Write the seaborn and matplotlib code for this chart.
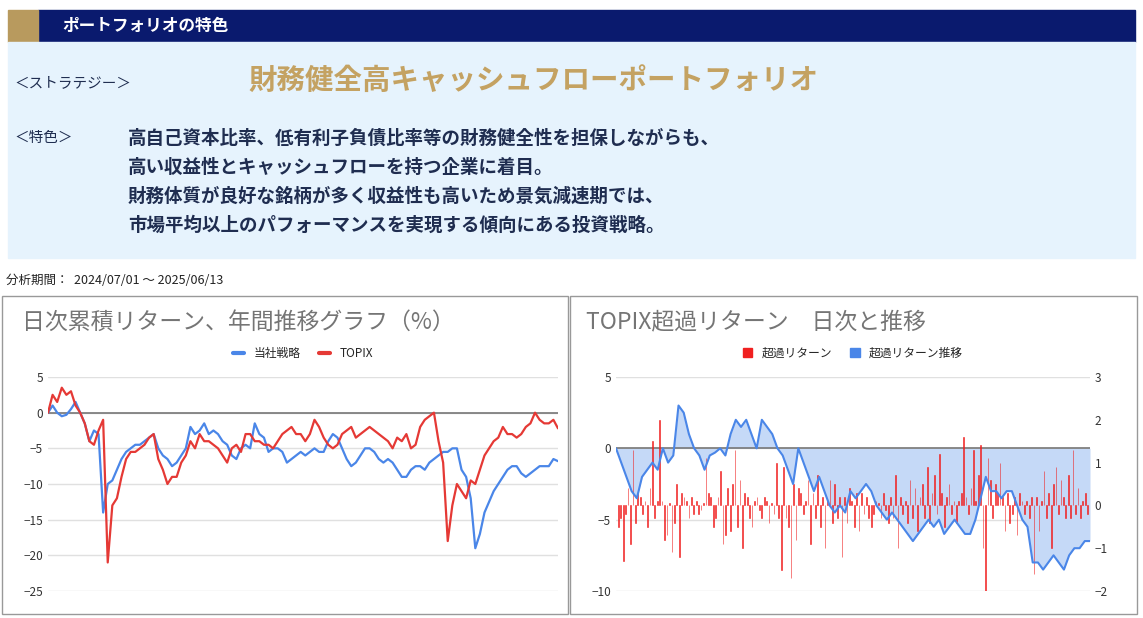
import numpy as np
import pandas as pd
import matplotlib
matplotlib.use("Agg")
import matplotlib.pyplot as plt
from matplotlib.patches import Rectangle
import seaborn as sns

# left chart: cumulative returns (%)
strategy = [0, 1, 0, -0.5, -0.3, 0.5, 1.5, 0, -1.5, -4, -2.5, -3, -14, -10, -9.5, -8, -6.5, -5.5, -5, -4.5,
            -4.5, -4, -3.5, -3, -5, -6, -6.5, -7.5, -7, -6, -5, -2, -3, -2.5, -1.5, -3, -2.5, -3, -4, -4.5,
            -6, -6.5, -5, -4.5, -5, -1.5, -3, -3.5, -5.5, -5, -5, -5.5, -7, -6.5, -6, -5.5, -6, -5.5, -5, -5.5,
            -5.5, -4, -3, -3.5, -5, -6.5, -7.5, -7, -6, -5, -5, -5.5, -6.5, -7, -6.5, -7, -8, -9, -9, -8,
            -7.5, -7.5, -8, -7, -6.5, -6, -5.5, -5.5, -5, -5, -8, -9, -12, -19, -17, -14, -12.5, -11, -10, -9,
            -8, -7.5, -7.5, -8.5, -9, -8.5, -8, -7.5, -7.5, -7.5, -6.5, -6.8]
topix = [0, 2.5, 1.5, 3.5, 2.5, 3, 1, 0, -1.5, -4, -4.5, -2.5, -1, -21, -13, -12, -9, -6.5, -5.5, -5.5,
         -5, -4.5, -3.5, -3, -6.5, -8, -10, -9, -9, -7, -6, -4, -5, -3, -4, -4, -4.5, -5, -6, -7,
         -5, -4.5, -5.5, -3, -3, -4, -4, -4.5, -4.5, -5, -4, -3, -2.5, -2, -3, -3, -4, -3, -1, -2,
         -3.5, -4.5, -5, -4.5, -3, -2.5, -2, -3.5, -3, -2.5, -2, -2.5, -3, -3.5, -4, -5, -3.5, -4, -3, -5,
         -4.5, -2, -1, -0.5, 0, -4, -7, -18, -13, -10, -11, -12, -9.5, -10, -8, -6, -5, -4, -3.5, -2,
         -3, -3, -3.5, -3, -2, -1.5, 0, -1, -1.5, -1.5, -1, -2.2]

# right chart: cumulative excess (left axis) and daily excess (right axis)
excess_cum = [0, -1, -2, -3, -3.5, -2, -1.5, -1, -1.5, 0, -1, -0.5, 3, 2.5, 1, 0, -0.5, -1.5, -0.5, -0.3,
              0, -0.5, 1, 2, 1.5, 2, 1, 0, 2, 1.5, 1, 0, -0.5, -1.5, -2.5, 0, -1, -2, -3, -2,
              -3, -4, -4.5, -4, -4.5, -3, -3.5, -3, -2.5, -3, -4, -4.5, -5, -4.5, -5, -5.5, -6, -6.5, -6, -5.5,
              -5, -5.5, -5, -6, -5.5, -5, -5.5, -6, -6, -5, -3.5, -2, -3, -3, -3.5, -3, -3, -4, -5, -5.5,
              -8, -8, -8.5, -8, -7.5, -8, -8.5, -7.5, -7, -7, -6.5, -6.5]
excess_daily = [-0.5, -0.3, -1.3, -0.2, 0.4, -0.9, 1.3, -0.4, 0.3, 0.2, -0.2, 0.1, -0.5, 0.4, 1.5, -0.3, 0.1, 2.0, 0.1, -0.8,
                -0.7, 0.05, -1.1, -0.4, 0.5, -1.2, 0.3, 0.2, 0.1, -0.3, 0.2, -0.2, 0.1, -0.2, -0.1, 0.05, 1.1, 0.3, 0.2, -0.5,
                -0.3, 0.2, 0.8, -0.9, -0.7, 0.4, -0.6, 0.5, 1.3, -0.5, 0.6, -1.0, 0.3, 0.2, -0.3, -0.5, 0.1, 0.2, -0.1, -0.3,
                0.2, 0.1, -0.4, 0.05, -0.2, 1.0, -0.3, -1.5, 0.9, -0.3, -0.5, -1.7, 0.5, -0.8, 0.4, 0.3, -0.2, 0.1, 0.6, -0.9,
                0.3, -0.3, 0.7, -0.5, 0.2, -1.0, 0.1, 0.6, -0.4, 0.5, -0.3, 0.2, -1.2, 0.2, -0.4, 0.4, 0.1, -0.5, 0.3, -0.6,
                0.3, -0.2, 0.2, -0.3, -0.5, -0.2, 0.1, 0.05, -0.3, 0.3, -0.1, -0.4, 0.2, -0.3, 0.7, -1.0, 0.2, -0.2, 0.1, -0.4,
                0.6, -0.3, 0.4, -0.6, 0.2, 0.5, -0.3, 0.9, -0.4, 0.3, 0.7, -0.2, 1.2, 0.3, -0.5, 0.2, 0.5, -0.2, 0.1, -0.4,
                0.1, 0.3, 1.6, 0.2, -0.2, 0.4, 1.3, 0.1, 0.7, 1.4, -1.0, -2.0, 1.1, 0.6, -0.3, 0.5, 0.3, 1.0, 0.2, -0.6,
                0.3, -0.4, -0.2, 0.2, -0.7, 0.3, 0.1, -0.2, 0.1, -0.3, 0.2, -1.6, 0.2, -0.6, 0.1, 0.8, -0.3, 0.3, -1.0, 0.5,
                0.9, -0.2, 0.6, 0.2, -0.3, 0.7, -0.3, 1.3, -0.2, 0.4, -0.3, 0.1, 0.3, -0.2]

NAVY = "#0a1a6e"
GOLD = "#c4a262"
TEXT = "#1f2d50"
BLUE = "#4a86e8"
RED = "#e53935"
BAR = "#f02020"

sns.set_style("white")
plt.rcParams["font.family"] = ["Noto Sans CJK JP", "DejaVu Sans"]

fig = plt.figure(figsize=(11.43, 6.18), dpi=100)
W, H = 1143, 618


def px(x, y, w, h):
    return [x / W, 1 - (y + h) / H, w / W, h / H]


# header band and info box
bg = fig.add_axes([0, 0, 1, 1])
bg.set_xlim(0, W)
bg.set_ylim(H, 0)
bg.axis("off")
bg.add_patch(Rectangle((38, 10), 1097, 32, color=NAVY))
bg.add_patch(Rectangle((8, 10), 30, 32, color="#b89a5e"))
bg.add_patch(Rectangle((8, 42), 1127, 216, color="#e6f3fd"))
bg.text(62, 26, "ポートフォリオの特色", color="white", fontsize=12, fontweight="bold", va="center")
bg.text(14, 83, "＜ストラテジー＞", color=TEXT, fontsize=10.5, va="center")
bg.text(248, 81, "財務健全高キャッシュフローポートフォリオ", color=GOLD, fontsize=20.5, fontweight="bold", va="center")
bg.text(14, 138, "＜特色＞", color=TEXT, fontsize=10.5, va="center")
lines = ["高自己資本比率、低有利子負債比率等の財務健全性を担保しながらも、",
         "高い収益性とキャッシュフローを持つ企業に着目。",
         "財務体質が良好な銘柄が多く収益性も高いため景気減速期では、",
         "市場平均以上のパフォーマンスを実現する傾向にある投資戦略。"]
for i, s in enumerate(lines):
    bg.text(128, 138 + i * 29, s, color=TEXT, fontsize=13.3, fontweight="bold", va="center")
bg.text(6, 281, "分析期間：  2024/07/01 〜 2025/06/13", color="#222222", fontsize=9, va="center")
bg.add_patch(Rectangle((2, 296), 566, 318, fill=False, ec="#999999", lw=1))
bg.add_patch(Rectangle((570, 296), 567, 318, fill=False, ec="#999999", lw=1))
bg.text(22, 322, "日次累積リターン、年間推移グラフ（%）", color="#757575", fontsize=16.5, va="center")
bg.text(586, 322, "TOPIX超過リターン　日次と推移", color="#757575", fontsize=16.5, va="center")

# left chart
df1 = pd.DataFrame({"x": np.linspace(0, 1, len(strategy)), "v": strategy})
df2 = pd.DataFrame({"x": np.linspace(0, 1, len(topix)), "v": topix})
ax1 = fig.add_axes(px(48, 377, 510, 214))
sns.lineplot(data=df1, x="x", y="v", color=BLUE, lw=1.6, ax=ax1, label="当社戦略")
sns.lineplot(data=df2, x="x", y="v", color=RED, lw=1.6, ax=ax1, label="TOPIX")
ax1.set_xlim(0, 1)
ax1.set_ylim(-25, 5)
ax1.set_yticks(range(-25, 6, 5))
ax1.yaxis.grid(True, color="#e0e0e0", lw=1)
ax1.axhline(0, color="#777777", lw=1.2, zorder=1)
ax1.set_xticks([])
ax1.set_xlabel("")
ax1.set_ylabel("")
ax1.tick_params(axis="y", length=0, labelsize=8.5, labelcolor="#333333")
sns.despine(ax=ax1, left=True, bottom=True)
ax1.legend(loc="lower center", bbox_to_anchor=(0.5, 1.03), ncol=2, frameon=False, fontsize=8.5,
           handlelength=1.0, columnspacing=1.5)
for lh in ax1.get_legend().get_lines():
    lh.set_linewidth(3)

# right chart
ax2 = fig.add_axes(px(616, 377, 474, 214))
xc = np.linspace(0, 1, len(excess_cum))
ax2.fill_between(xc, excess_cum, 0, color="#c5d9f7", lw=0, zorder=1)
ax2.set_xlim(0, 1)
ax2.set_ylim(-10, 5)
ax2.set_yticks([-10, -5, 0, 5])
ax2.yaxis.grid(True, color="#e0e0e0", lw=1)
ax2.axhline(0, color="#777777", lw=1.2, zorder=2)
ax2.set_xticks([])
ax2.tick_params(axis="y", length=0, labelsize=8.5, labelcolor="#333333")
sns.despine(ax=ax2, left=True, bottom=True)
ax3 = ax2.twinx()
xd = np.linspace(0.005, 0.995, len(excess_daily))
ax3.bar(xd, excess_daily, width=0.0015, color=BAR, edgecolor=BAR, linewidth=0.4, zorder=2)
ax3.set_ylim(-2, 3)
ax3.set_yticks([-2, -1, 0, 1, 2, 3])
ax3.tick_params(axis="y", length=0, labelsize=8.5, labelcolor="#333333")
sns.despine(ax=ax3, left=True, bottom=True, right=True)
ax3.patch.set_visible(False)
# cumulative line on top of the bars, in left-axis units
ax4 = ax2.twinx()
ax4.set_ylim(ax2.get_ylim())
ax4.set_axis_off()
sns.lineplot(x=xc, y=excess_cum, color=BLUE, lw=1.5, ax=ax4)
handles = [Rectangle((0, 0), 1, 1, color=BAR), Rectangle((0, 0), 1, 1, color=BLUE)]
ax3.legend(handles, ["超過リターン", "超過リターン推移"], loc="lower center", bbox_to_anchor=(0.5, 1.03),
           ncol=2, frameon=False, fontsize=8.5, handlelength=0.8, handleheight=0.8, columnspacing=1.5)

fig.savefig("out.png", dpi=100)
